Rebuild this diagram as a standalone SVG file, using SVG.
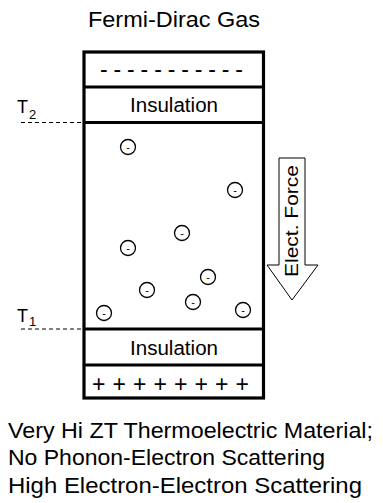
<svg xmlns="http://www.w3.org/2000/svg" width="383" height="503" viewBox="0 0 383 503">
<style>
text{font-family:"Liberation Sans",Arial,sans-serif;fill:#000}
.box{fill:#fff;stroke:#000;stroke-width:3.2}
.e{fill:#fff;stroke:#000;stroke-width:1.3}
.em{font-size:11px;text-anchor:middle}
.dash{stroke:#000;stroke-width:1;stroke-dasharray:4,3;fill:none}
</style>
<rect width="383" height="503" fill="#fff"/>
<text x="174" y="27" font-size="22" text-anchor="middle" textLength="172" lengthAdjust="spacingAndGlyphs">Fermi-Dirac Gas</text>
<g id="material">
<rect class="box" x="84" y="52" width="179.5" height="346"/>
<line x1="84" y1="87" x2="263.5" y2="87" stroke="#000" stroke-width="3.2"/>
<line x1="84" y1="122.5" x2="263.5" y2="122.5" stroke="#000" stroke-width="3.2"/>
<line x1="84" y1="329" x2="263.5" y2="329" stroke="#000" stroke-width="3.2"/>
<line x1="84" y1="365" x2="263.5" y2="365" stroke="#000" stroke-width="3.2"/>
</g>
<g id="neg-layer"><text x="100" y="77" font-size="23" textLength="143" lengthAdjust="spacing">- - - - - - - - - - -</text></g>
<g id="insulation-top"><text x="130" y="112" font-size="20" textLength="88" lengthAdjust="spacingAndGlyphs">Insulation</text></g>
<g id="insulation-bottom"><text x="130" y="355" font-size="20" textLength="88" lengthAdjust="spacingAndGlyphs">Insulation</text></g>
<g id="pos-layer"><text x="92" y="392" font-size="23" textLength="157" lengthAdjust="spacing">+ + + + + + + +</text></g>
<g id="electrons">
<circle class="e" cx="128" cy="147" r="7.5"/><text class="em" x="128" y="151">-</text>
<circle class="e" cx="235" cy="190" r="7.5"/><text class="em" x="235" y="194">-</text>
<circle class="e" cx="182" cy="233" r="7.5"/><text class="em" x="182" y="237">-</text>
<circle class="e" cx="128" cy="248" r="7.5"/><text class="em" x="128" y="252">-</text>
<circle class="e" cx="208" cy="277" r="7.5"/><text class="em" x="208" y="281">-</text>
<circle class="e" cx="147" cy="290" r="7.5"/><text class="em" x="147" y="294">-</text>
<circle class="e" cx="193" cy="302" r="7.5"/><text class="em" x="193" y="306">-</text>
<circle class="e" cx="243" cy="310" r="7.5"/><text class="em" x="243" y="314">-</text>
<circle class="e" cx="104" cy="313" r="7.5"/><text class="em" x="104" y="317">-</text>
</g>
<g id="T2"><text x="17" y="113" font-size="18">T<tspan font-size="13" dx="1" dy="6">2</tspan></text></g>
<g id="T1"><text x="17" y="322" font-size="18">T<tspan font-size="13" dx="1" dy="4">1</tspan></text></g>
<g id="connectors">
<line class="dash" x1="21" y1="122.5" x2="83" y2="122.5"/>
<line class="dash" x1="21" y1="329" x2="83" y2="329"/>
</g>
<g id="force">
<polygon points="279,158 305,158 305,265 318,265 292,300 267,265 279,265" fill="#fff" stroke="#000" stroke-width="1"/>
<text transform="translate(298,221) rotate(-90)" font-size="19" text-anchor="middle" textLength="112" lengthAdjust="spacingAndGlyphs">Elect. Force</text>
</g>
<g id="caption" font-size="22">
<text x="8" y="438" textLength="365" lengthAdjust="spacingAndGlyphs">Very Hi ZT Thermoelectric Material;</text>
<text x="8" y="465" textLength="317" lengthAdjust="spacingAndGlyphs">No Phonon-Electron Scattering</text>
<text x="8" y="493" textLength="354" lengthAdjust="spacingAndGlyphs">High Electron-Electron Scattering</text>
</g>
</svg>
